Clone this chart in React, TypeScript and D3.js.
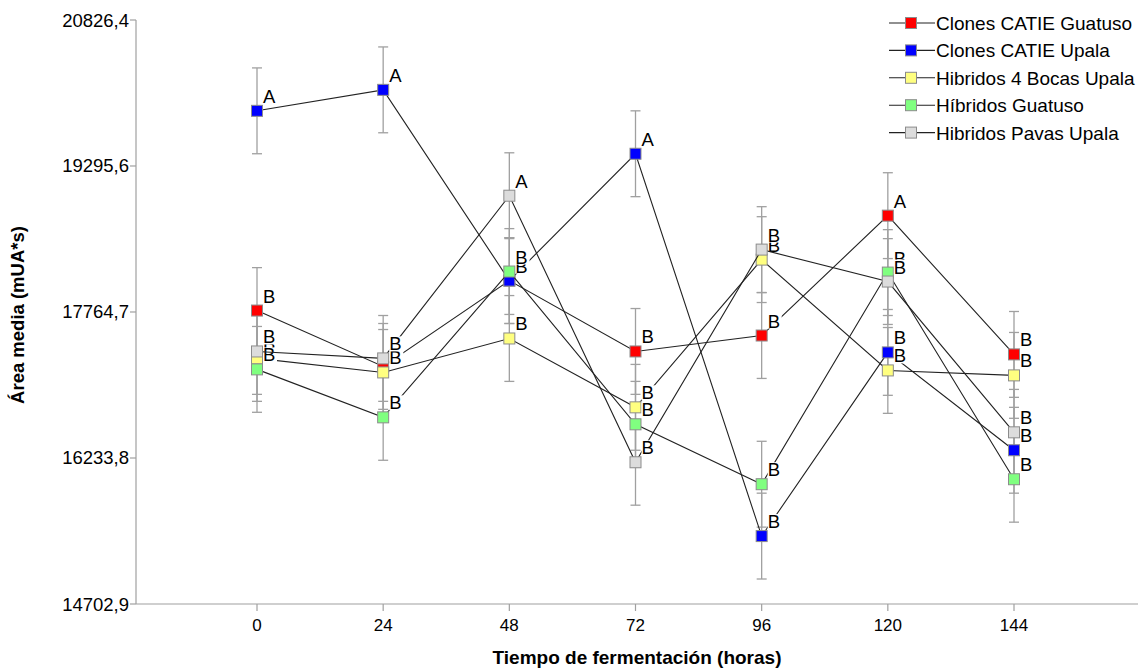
import React from 'react';
import * as d3 from 'd3';

const hours = [0, 24, 48, 72, 96, 120, 144];
const yTicks = [14702.9, 16233.8, 17764.7, 19295.6, 20826.4];

const seriesNames = [
  'Clones CATIE Guatuso',
  'Clones CATIE Upala',
  'Hibridos 4 Bocas Upala',
  'Híbridos Guatuso',
  'Hibridos Pavas Upala',
];
const seriesColors = ['#ff0000', '#0000ff', '#ffff80', '#80ff80', '#dcdcdc'];

const guatusoClones = [17780, 17194, 18094, 17351, 17518, 18775, 17320];
const upalaClones = [19874, 20094, 18094, 19424, 15415, 17341, 16315];
const bocasUpala = [17278, 17131, 17487, 16765, 18314, 17152, 17100];
const hibGuatuso = [17163, 16660, 18189, 16587, 15959, 18178, 16011];
const pavasUpala = [17351, 17278, 18984, 16189, 18419, 18084, 16503];
const seriesValues = [guatusoClones, upalaClones, bocasUpala, hibGuatuso, pavasUpala];

// standard error (same pooled value for every mean)
const stdErr = 450;

const letters = [
  ['B', 'B', 'B', 'B', 'B', 'A', 'B'],
  ['A', 'A', 'B', 'A', 'B', 'B', 'B'],
  ['B', 'B', 'B', 'B', 'B', 'B', 'B'],
  ['B', 'B', 'B', 'B', 'B', 'B', 'B'],
  ['B', 'B', 'A', 'B', 'B', 'B', 'B'],
];

const W = 1138;
const H = 670;
const left = 136;
const bottom = 604;
const font = '"Liberation Sans", Arial, sans-serif';
const narrow = '"Liberation Sans Narrow", "Liberation Sans", Arial, sans-serif';

export default function App() {
  const x = d3.scaleLinear().domain([0, 144]).range([257, 1014]);
  const y = d3.scaleLinear().domain([14702.9, 20826.4]).range([bottom, 20]);
  const line = d3
    .line<number>()
    .x((_, i) => x(hours[i]))
    .y((d) => y(d));
  const ms = 11;

  return (
    <svg width={W} height={H} style={{ position: 'absolute', left: 0, top: 0, background: '#fff' }}>
      {/* axes */}
      <line x1={left} y1={y(20826.4)} x2={left} y2={bottom} stroke="#a0a0a0" strokeWidth={1.2} />
      <line x1={left} y1={bottom} x2={W} y2={bottom} stroke="#a0a0a0" strokeWidth={1.2} />
      {yTicks.map((t) => (
        <g key={t}>
          <line x1={left - 6} x2={left} y1={y(t)} y2={y(t)} stroke="#a0a0a0" strokeWidth={1.2} />
          <text x={left - 7} y={y(t) + 6.5} textAnchor="end" fontFamily={font} fontSize={18.5} fill="#000">
            {t.toFixed(1).replace('.', ',')}
          </text>
        </g>
      ))}
      {hours.map((h) => (
        <g key={h}>
          <line x1={x(h)} x2={x(h)} y1={bottom} y2={bottom + 7} stroke="#a0a0a0" strokeWidth={1.2} />
          <text x={x(h)} y={bottom + 27} textAnchor="middle" fontFamily={narrow} fontSize={17} fill="#000">
            {h}
          </text>
        </g>
      ))}
      <text x={637} y={664} textAnchor="middle" fontFamily={narrow} fontWeight="bold" fontSize={19}>
        Tiempo de fermentación (horas)
      </text>
      <text
        transform={`translate(24,${y(17764.7) + 3}) rotate(-90)`}
        textAnchor="middle"
        fontFamily={narrow}
        fontWeight="bold"
        fontSize={18.5}
      >
        Área media (mUA*s)
      </text>

      {/* error bars */}
      {seriesValues.map((vals, s) =>
        vals.map((v, i) => (
          <g key={`e${s}-${i}`} stroke="#a0a0a0" strokeWidth={1.3}>
            <line x1={x(hours[i])} x2={x(hours[i])} y1={y(v - stdErr)} y2={y(v + stdErr)} />
            <line x1={x(hours[i]) - 5} x2={x(hours[i]) + 5} y1={y(v - stdErr)} y2={y(v - stdErr)} />
            <line x1={x(hours[i]) - 5} x2={x(hours[i]) + 5} y1={y(v + stdErr)} y2={y(v + stdErr)} />
          </g>
        ))
      )}

      {/* series */}
      {seriesValues.map((vals, s) => (
        <g key={`s${s}`}>
          <path d={line(vals) || ''} fill="none" stroke="#222" strokeWidth={1.1} />
          {vals.map((v, i) => (
            <rect
              key={`m${i}`}
              x={x(hours[i]) - ms / 2}
              y={y(v) - ms / 2}
              width={ms}
              height={ms}
              fill={seriesColors[s]}
              stroke="#8c8c8c"
              strokeWidth={1}
            />
          ))}
          {vals.map((v, i) => (
            <g key={`l${i}`}>
              <rect x={x(hours[i]) + 6} y={y(v) - 22} width={14} height={15} fill="#fff" />
              <text x={x(hours[i]) + 6} y={y(v) - 8} fontFamily={font} fontSize={18.5} fill="#000">
                {letters[s][i]}
              </text>
            </g>
          ))}
        </g>
      ))}

      {/* legend */}
      {seriesNames.map((name, i) => {
        const ly = 23 + i * 27.4;
        return (
          <g key={name}>
            <line x1={889} x2={935} y1={ly} y2={ly} stroke="#222" strokeWidth={1.1} />
            <rect x={911 - ms / 2} y={ly - ms / 2} width={ms} height={ms} fill={seriesColors[i]} stroke="#8c8c8c" />
            <text x={936} y={ly + 7} fontFamily={font} fontSize={19} fill="#000">
              {name}
            </text>
          </g>
        );
      })}
    </svg>
  );
}
